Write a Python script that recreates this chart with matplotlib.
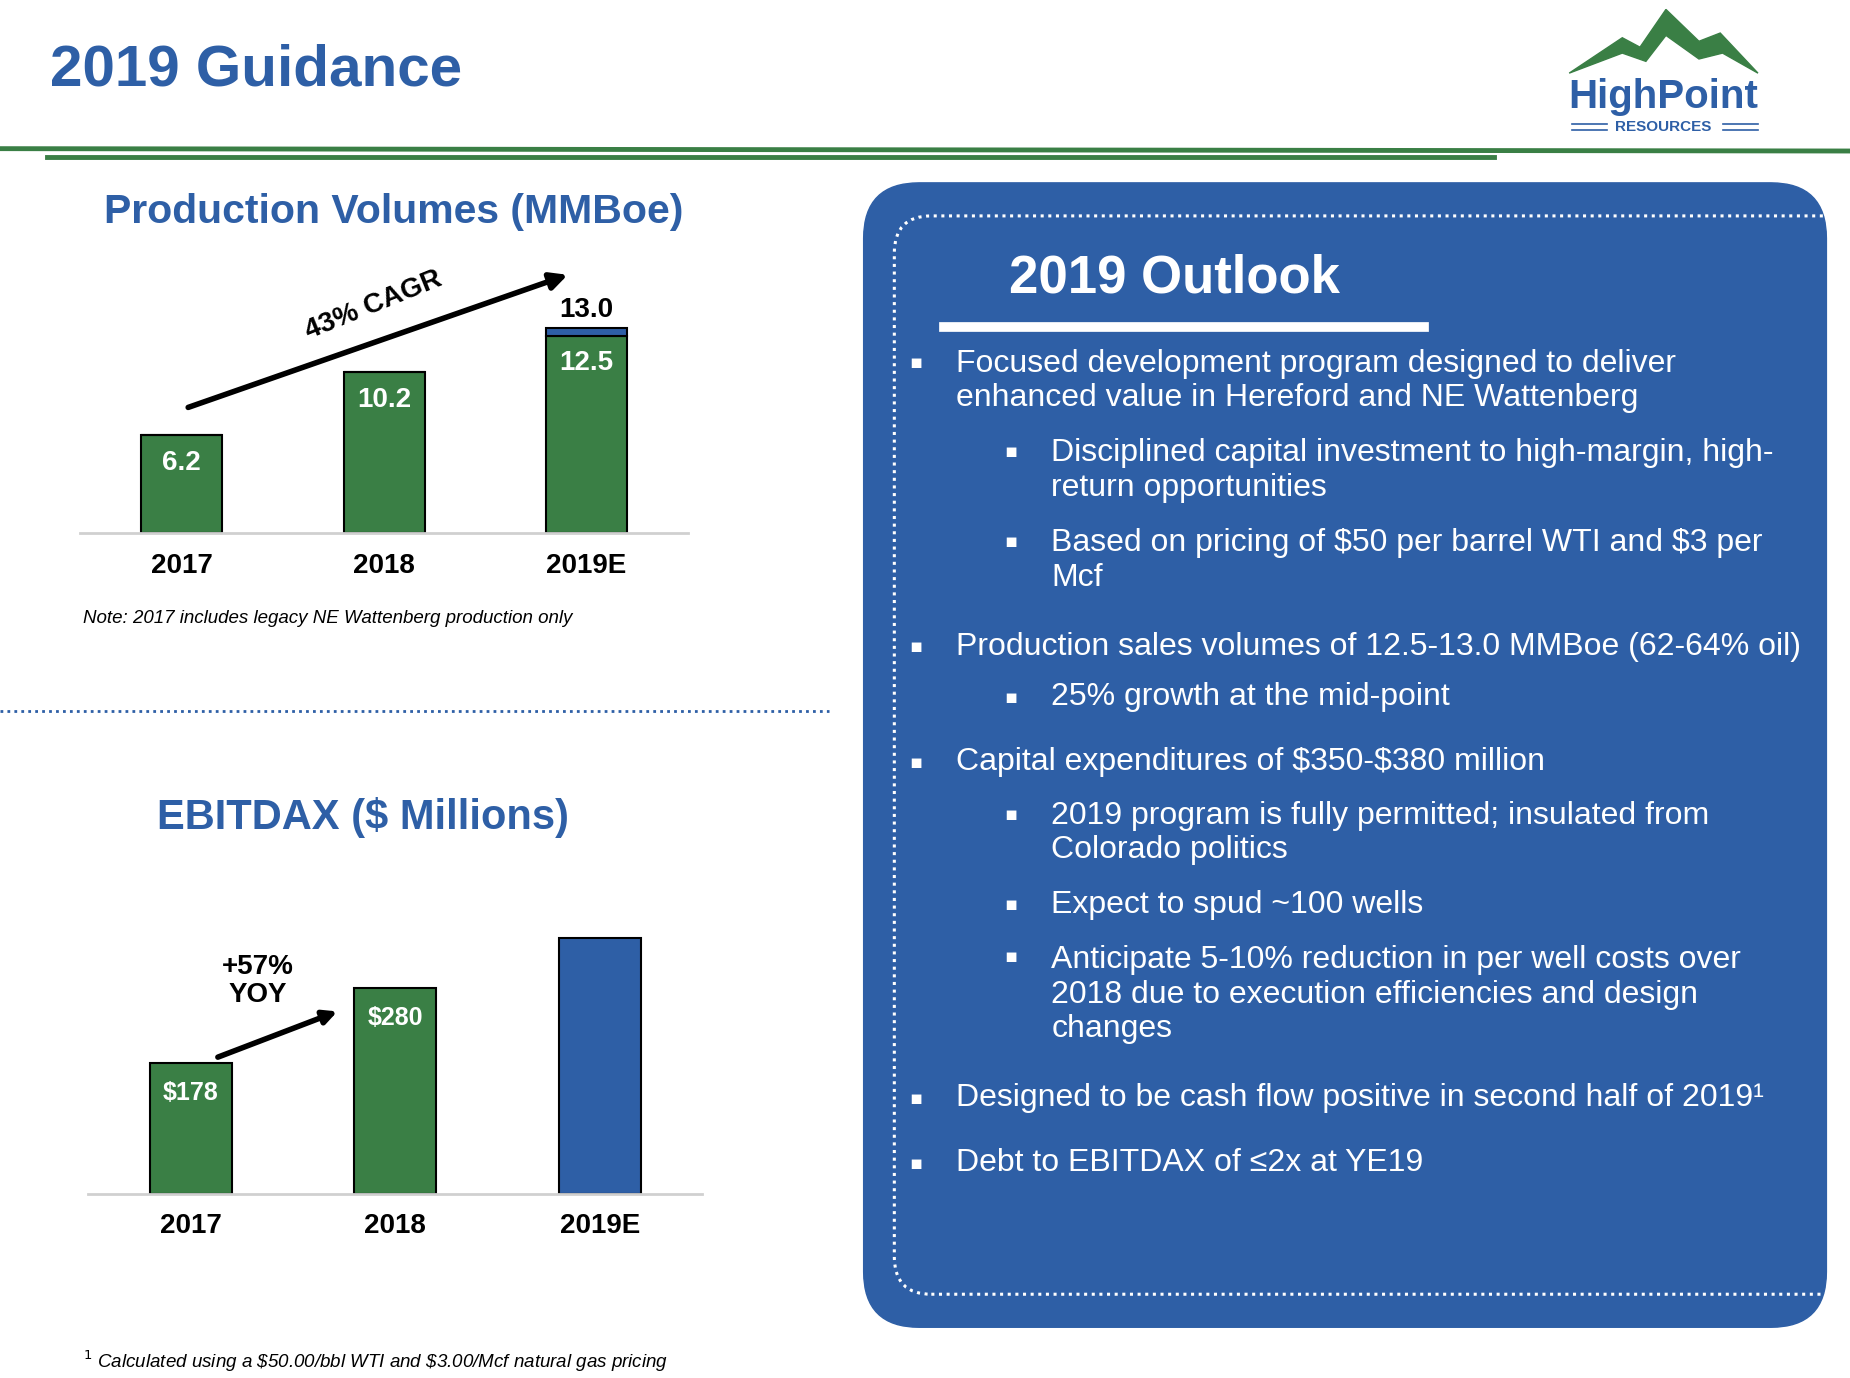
import numpy as np
import matplotlib.pyplot as plt
from matplotlib.patches import FancyBboxPatch, Polygon
from matplotlib.lines import Line2D

plt.rcParams['font.family'] = ['Liberation Sans', 'DejaVu Sans']

GREEN = '#3a7f45'
BLUE = '#2e5fa6'
TITLE_BLUE = '#2e5fa6'

years = ['2017', '2018', '2019E']
prod_low = [6.2, 10.2, 12.5]
prod_extra = [0, 0, 0.5]
ebitdax = [178, 280, 349]
ebitdax_labels = ['$178', '$280', '']
ebitdax_colors = [GREEN, GREEN, BLUE]

W, H = 1568, 1168
fig = plt.figure(figsize=(18.5, 13.78), dpi=100)


def fx(x):
    return x / W


def fy(y):
    return 1 - y / H


def ftext(x, y, s, **kw):
    fig.text(fx(x), fy(y), s, **kw)


# header
ftext(42, 60, '2019 Guidance', fontsize=42, fontweight='bold', color=TITLE_BLUE, va='center')
fig.add_artist(Line2D([0, 1], [fy(126), fy(128)], color=GREEN, lw=3.5))
fig.add_artist(Line2D([fx(40), fx(1266)], [fy(133), fy(133)], color=GREEN, lw=3.5))

# logo
mount = [(1330, 62), (1375, 32), (1390, 40), (1412, 8), (1440, 35), (1458, 28), (1490, 62),
         (1460, 45), (1440, 50), (1412, 30), (1395, 52), (1375, 45)]
fig.add_artist(Polygon([(fx(a), fy(b)) for a, b in mount], closed=True, color=GREEN))
ftext(1410, 82, 'HighPoint', fontsize=29, fontweight='bold', color=BLUE, ha='center', va='center')
ftext(1410, 108, 'RESOURCES', fontsize=11, fontweight='bold', color=BLUE, ha='center', va='center')
for yy in (105, 110):
    fig.add_artist(Line2D([fx(1332), fx(1362)], [fy(yy), fy(yy)], color=BLUE, lw=1.2))
    fig.add_artist(Line2D([fx(1460), fx(1490)], [fy(yy), fy(yy)], color=BLUE, lw=1.2))

# production chart
ftext(334, 180, 'Production Volumes (MMBoe)', fontsize=29.5, fontweight='bold', color=TITLE_BLUE,
      ha='center', va='center')
ax1 = fig.add_axes([fx(68), fy(452), fx(583 - 68), (452 - 200) / H])
x = np.arange(3)
ax1.bar(x, prod_low, width=0.4, color=GREEN, edgecolor='black', lw=1.5)
ax1.bar(x, prod_extra, bottom=prod_low, width=0.4, color=BLUE, edgecolor='black', lw=1.5)
ax1.set_xlim(-0.5, 2.5)
ax1.set_ylim(0, 18.8)
for i, v in enumerate(prod_low):
    ax1.text(i, v - 1.75, f'{v:.1f}', ha='center', va='center', color='white', fontsize=20, fontweight='bold')
ax1.text(2, 13.0 + 0.3, '13.0', ha='center', va='bottom', fontsize=20, fontweight='bold')
ax1.annotate('', xy=(1.92, 16.4), xytext=(0.02, 7.9),
             arrowprops=dict(arrowstyle='-|>,head_width=0.5,head_length=1.0', color='black', lw=4))
ax1.text(0.95, 14.4, '43% CAGR', rotation=22, ha='center', va='center', fontsize=20, fontweight='bold')

# ebitdax chart
ftext(308, 693, 'EBITDAX ($ Millions)', fontsize=30, fontweight='bold', color=TITLE_BLUE,
      ha='center', va='center')
ax2 = fig.add_axes([fx(75), fy(1012), fx(595 - 75), (1012 - 760) / H])
ax2.bar(x, ebitdax, width=0.4, color=ebitdax_colors, edgecolor='black', lw=1.5)
ax2.set_xlim(-0.5, 2.5)
ax2.set_ylim(0, 405)
for i, s in enumerate(ebitdax_labels):
    ax2.text(i, ebitdax[i] - 40, s, ha='center', va='center', color='white', fontsize=18, fontweight='bold')
ax2.annotate('', xy=(0.73, 250), xytext=(0.12, 185),
             arrowprops=dict(arrowstyle='-|>,head_width=0.4,head_length=0.8', color='black', lw=4))
ax2.text(0.33, 290, '+57%\nYOY', ha='center', va='center', fontsize=20, fontweight='bold', linespacing=1.1)

for ax in (ax1, ax2):
    for s in ('top', 'right', 'left'):
        ax.spines[s].set_visible(False)
    ax.spines['bottom'].set_color('#d0d0d0')
    ax.spines['bottom'].set_linewidth(2)
    ax.set_yticks([])
    ax.set_xticks(x)
    ax.set_xticklabels(years, fontsize=20, fontweight='bold')
    ax.tick_params(axis='x', length=0, pad=14)
    ax.patch.set_alpha(0)

ftext(70, 524, 'Note: 2017 includes legacy NE Wattenberg production only', fontsize=13.5, style='italic', va='center')
ftext(70, 1154, '$^1$ Calculated using a \\$50.00/bbl WTI and \\$3.00/Mcf natural gas pricing',
      fontsize=13.5, style='italic', va='center')
fig.add_artist(Line2D([0, fx(703)], [fy(603), fy(603)], color=BLUE, lw=2, ls=(0, (1, 1.5))))

# outlook panel
panel = FancyBboxPatch((fx(732), fy(1125)), fx(816), (1125 - 155) / H,
                       boxstyle='round,pad=0,rounding_size=0.03', color=BLUE, transform=fig.transFigure,
                       mutation_aspect=W / H)
fig.add_artist(panel)
border = FancyBboxPatch((fx(758), fy(1097)), fx(830), (1097 - 183) / H,
                        boxstyle='round,pad=0,rounding_size=0.02', fill=False, ec='white', lw=2.2,
                        ls=(0, (1, 1.5)), transform=fig.transFigure, mutation_aspect=W / H, clip_on=False)
fig.add_artist(border)
ftext(995, 236, '2019 Outlook', fontsize=38, fontweight='bold', color='white', ha='center', va='center')
fig.add_artist(Line2D([fx(800), fx(1207)], [fy(277), fy(277)], color='white', lw=7))

bullets = [
    (0, 323, 'Focused development program designed to deliver\nenhanced value in Hereford and NE Wattenberg'),
    (1, 399, 'Disciplined capital investment to high-margin, high-\nreturn opportunities'),
    (1, 475, 'Based on pricing of $50 per barrel WTI and $3 per\nMcf'),
    (0, 548, 'Production sales volumes of 12.5-13.0 MMBoe (62-64% oil)'),
    (1, 591, '25% growth at the mid-point'),
    (0, 646, 'Capital expenditures of $350-$380 million'),
    (1, 706, '2019 program is fully permitted; insulated from\nColorado politics'),
    (1, 767, 'Expect to spud ~100 wells'),
    (1, 843, 'Anticipate 5-10% reduction in per well costs over\n2018 due to execution efficiencies and design\nchanges'),
    (0, 931, 'Designed to be cash flow positive in second half of 2019\u00b9'),
    (0, 986, 'Debt to EBITDAX of \u22642x at YE19'),
]
for lvl, yy, s in bullets:
    bx = 776 if lvl == 0 else 857
    tx = 810 if lvl == 0 else 891
    nlines = s.count('\n') + 1
    ytop = yy - (nlines - 1) * 16
    ftext(bx, ytop, '\u25aa', fontsize=14, color='white', ha='center', va='center', family='DejaVu Sans')
    ftext(tx, yy, s.replace('$', '\\$'), fontsize=23, color='white', va='center', linespacing=1.2)

fig.savefig('out.png', dpi=100)
